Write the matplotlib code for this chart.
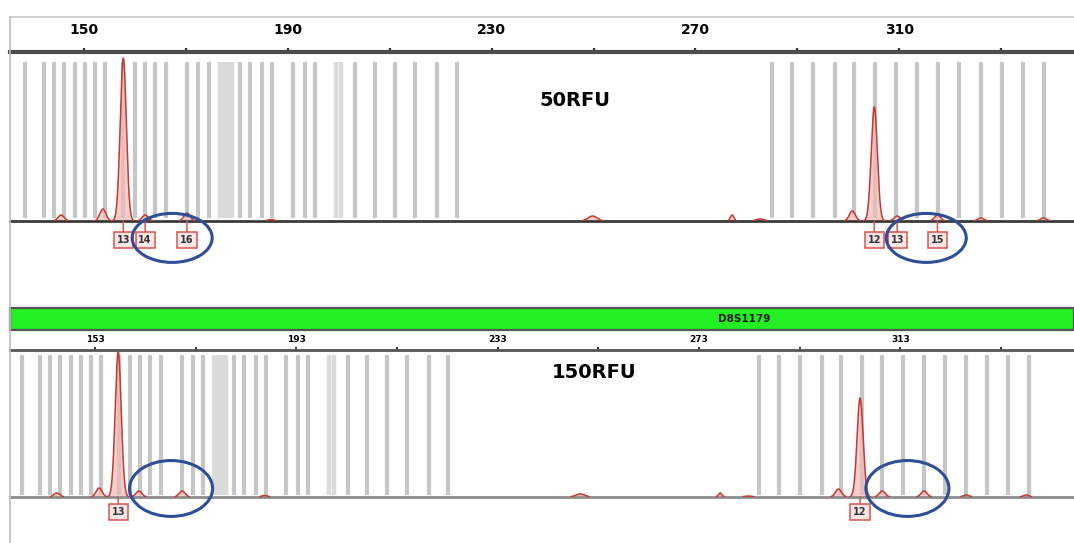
import numpy as np
import matplotlib
matplotlib.use("Agg")
import matplotlib.pyplot as plt
from matplotlib.patches import Ellipse, Rectangle
from matplotlib.lines import Line2D
from matplotlib.transforms import blended_transform_factory

W, H = 1074, 543

# bins (bp) shared by both panels
bins_bp = [138.4, 142.1, 144.1, 146.1, 148.2, 150.2, 152.2, 154.1, 157.7, 160.0,
           162.0, 163.9, 166.1, 170.2, 172.4, 174.5, 180.6, 182.6, 184.9, 186.9,
           191.0, 193.4, 195.3, 203.2, 207.1, 211.1, 215.0, 219.3, 223.2,
           285.0, 288.9, 293.1, 297.4, 301.2, 305.3, 309.4, 313.5, 317.6, 321.8,
           326.1, 330.2, 334.3, 338.5]
light_bins_bp = [176.7, 177.5, 178.3, 179.1, 199.5, 200.4]

# 50 RFU panel
top_peak_bp = [145.5, 153.7, 157.7, 162.0, 170.2, 186.7, 300.8, 305.1, 309.6, 317.5, 326.0, 338.3]
top_peak_h = [6, 12, 163, 6, 8, 1.5, 10, 114, 5, 6, 3, 3]
top_art_bp = [249.8, 277.2, 282.7]
top_art_h = [5, 6, 2]
top_allele_bp = [157.7, 162.0, 170.2, 305.1, 309.6, 317.5]
top_allele_txt = ["13", "14", "16", "12", "13", "15"]
top_circle_bp = [167.3, 315.3]
top_tick_labels = ["150", "190", "230", "270", "310"]

# 150 RFU panel
bot_peak_bp = [145.4, 153.8, 157.6, 161.7, 170.3, 186.7, 300.7, 305.0, 309.4, 317.7, 326.1, 338.0]
bot_peak_h = [4, 9, 145, 6, 6, 1.5, 8, 99, 6, 6, 2, 2]
bot_art_bp = [249.4, 277.2, 282.8]
bot_art_h = [3, 4, 1]
bot_allele_bp = [157.6, 305.0]
bot_allele_txt = ["13", "12"]
bot_circle_bp = [168.1, 314.4]
bot_tick_labels = ["153", "193", "233", "273", "313"]

RED = "#c23a33"
BLUE = "#2f4e96"
NARROW = ["Liberation Sans Narrow", "DejaVu Sans"]


def fig_box(x0, y0, x1, y1):
    return [x0 / W, 1 - y1 / H, (x1 - x0) / W, (y1 - y0) / H]


def trace(x, pos, hts, sig):
    y = np.zeros_like(x)
    for p, h, s in zip(pos, hts, sig):
        y += h * np.exp(-0.5 * ((x - p) / s) ** 2)
    return y


def draw_panel(ax, xlim, ylim, peaks, heights, arts, art_h, alleles, texts,
               circles, tick_first, tick_labels, bin_span, label_y, circle_y,
               circle_h, circle_w):
    bl = blended_transform_factory(ax.transData, ax.transAxes)

    ax.vlines(light_bins_bp, bin_span[0], bin_span[1], transform=bl,
              colors="#dadada", lw=3.2, zorder=1)
    ax.vlines(bins_bp, bin_span[0], bin_span[1], transform=bl,
              colors="#c6c6c6", lw=3.0, zorder=1)

    x = np.linspace(xlim[0], xlim[1], 6000)
    y = trace(x, peaks + arts, heights + art_h,
              [0.6] * len(peaks) + [0.9, 0.35, 0.8])
    y = np.where(y > 0.4, y, np.nan)
    ax.fill_between(x, 0, y, color="#f2b8b5", alpha=0.7, lw=0, zorder=2)
    ax.plot(x, y, color=RED, lw=1.1, zorder=3)

    for p, t in zip(alleles, texts):
        ax.annotate(t, xy=(p, 0), xycoords=bl, xytext=(p, label_y), textcoords=bl,
                    ha="center", va="center", fontsize=7, fontweight="bold",
                    color="#333333", annotation_clip=False,
                    bbox=dict(boxstyle="square,pad=0.3", fc="#fde6e6", ec="#d9534f", lw=1.1),
                    arrowprops=dict(arrowstyle="-", color="#d9534f", lw=1.1,
                                    shrinkA=0, shrinkB=0))

    for c in circles:
        ax.add_patch(Ellipse((c, circle_y), circle_w, circle_h, transform=bl,
                             fill=False, ec=BLUE, lw=2.2, clip_on=False, zorder=5))

    major = np.arange(tick_first, xlim[1], 20)
    labels = [tick_labels[i // 2] if i % 2 == 0 and i // 2 < len(tick_labels) else ""
              for i in range(len(major))]
    ax.set_xticks(major)
    ax.set_xticklabels(labels)
    minor = np.arange(tick_first - 14, xlim[1], 2)
    ax.set_xticks(minor[minor > xlim[0]], minor=True)
    ax.xaxis.tick_top()
    ax.set_yticks([])
    ax.set_xlim(*xlim)
    ax.set_ylim(*ylim)
    for s in ("left", "right"):
        ax.spines[s].set_visible(False)


fig = plt.figure(figsize=(W / 100, H / 100), dpi=100)

# top: 50RFU
ax1 = fig.add_axes(fig_box(10, 52, 1074, 221))
draw_panel(ax1, (135.47, 344.3), (0, 169), top_peak_bp, top_peak_h, top_art_bp, top_art_h,
           top_allele_bp, top_allele_txt, top_circle_bp, 150, top_tick_labels,
           (0.018, 0.94), -0.112, -0.1, 0.29, 15.7)
ax1.spines["top"].set_linewidth(3)
ax1.spines["top"].set_color("#4d4d4d")
ax1.spines["bottom"].set_linewidth(2)
ax1.spines["bottom"].set_color("#3a3a3a")
ax1.tick_params(axis="x", which="major", length=3, width=1.6, color="#333333",
                pad=8, labelsize=10)
ax1.tick_params(axis="x", which="minor", length=1.5, width=0.8, color="#555555")
for lab in ax1.get_xticklabels():
    lab.set_family(NARROW)
    lab.set_fontweight("bold")
fig.text(575 / W, 1 - 100 / H, "50RFU", fontsize=14, fontweight="bold",
         ha="center", va="center")

# bottom: 150RFU
ax2 = fig.add_axes(fig_box(10, 350, 1074, 497))
draw_panel(ax2, (136.1, 347.5), (0, 147), bot_peak_bp, bot_peak_h, bot_art_bp, bot_art_h,
           bot_allele_bp, bot_allele_txt, bot_circle_bp, 153, bot_tick_labels,
           (0.014, 0.966), -0.102, 0.058, 0.38, 16.5)
ax2.spines["top"].set_linewidth(2)
ax2.spines["top"].set_color("#555555")
ax2.spines["bottom"].set_linewidth(2)
ax2.spines["bottom"].set_color("#8c8c8c")
ax2.tick_params(axis="x", which="major", length=2, width=1.4, color="#333333",
                pad=2, labelsize=6.5)
ax2.tick_params(axis="x", which="minor", length=1, width=0.6, color="#666666")
for lab in ax2.get_xticklabels():
    lab.set_family(NARROW)
    lab.set_fontweight("bold")
fig.text(594 / W, 1 - 372 / H, "150RFU", fontsize=14, fontweight="bold",
         ha="center", va="center")

# locus bar
fig.add_artist(Rectangle((10 / W, 1 - 330 / H), 1064 / W, 22 / H, transform=fig.transFigure,
                         fc="#22f022", ec="#555555", lw=1.6))
fig.text(744 / W, 1 - 319 / H, "D8S1179", fontsize=7.5, fontweight="bold",
         family=NARROW, ha="center", va="center", color="#1a1a1a")

# frame lines
fig.add_artist(Line2D([10 / W, 1], [1 - 17 / H, 1 - 17 / H], transform=fig.transFigure,
                      color="#c8c8c8", lw=1.2))
fig.add_artist(Line2D([10 / W, 10 / W], [0, 1 - 17 / H], transform=fig.transFigure,
                      color="#bdbdbd", lw=1.2))

fig.savefig("out.png", dpi=100)
